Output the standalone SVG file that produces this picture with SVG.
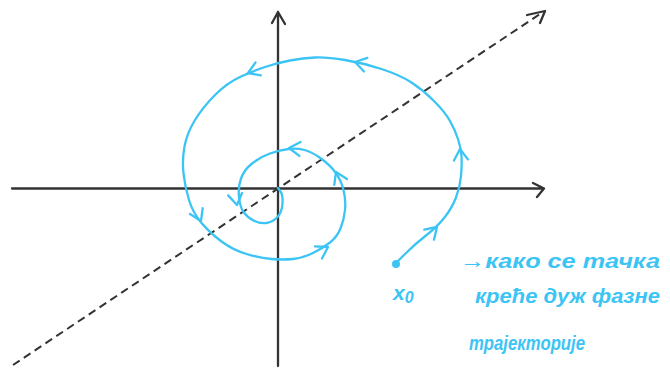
<svg xmlns="http://www.w3.org/2000/svg" width="670" height="371" viewBox="0 0 670 371">
<style>
.ax{fill:none;stroke:#333;stroke-width:2.3;stroke-linecap:round;stroke-linejoin:round}
.dash{fill:none;stroke:#333;stroke-width:2;stroke-dasharray:8 5}
.bl{fill:none;stroke:#3cc4f5;stroke-width:2.3;stroke-linecap:round;stroke-linejoin:round}
.tx{fill:#3cc4f5;font-family:"Liberation Sans",sans-serif;font-style:italic;font-weight:bold}
</style>
<defs>
<path id="chev" class="bl" d="M-11,-7 L0,0 L-11,7"/>
</defs>
<rect width="670" height="371" fill="#fff"/>
<g id="axes">
<path class="ax" d="M12,188.5 L544,188.5 M533,183 L544,188.5 L537,197"/>
<path class="ax" d="M278,366 L278,12 M272,23 L278,12 L285,24"/>
<path class="dash" d="M13,365 L543,12"/>
<path class="ax" d="M527,15 L545,11 L540,23"/>
</g>
<g id="connectors">
<path class="bl" d="M396,263 L405.5,253.5 Q415,244 426,235.5 Q437,227 444.5,217.5 Q452,208 456,197.5 Q460,187 461,176 Q462,165 461.5,156.5 Q461,148 458,139 Q455,130 450,121 Q445,112 434,101 Q423,90 411.5,82.5 Q400,75 381.5,69 Q363,63 345,60 Q327,57 315,57.5 Q303,58 290,60.5 Q277,63 265,67 Q253,71 240,77 Q227,83 215,95 Q203,107 195,120 Q187,133 184.5,146.5 Q182,160 183.5,173.5 Q185,187 189,200 Q193,213 201.5,223 Q210,233 221.5,241.5 Q233,250 246.5,254 Q260,258 271.5,259 Q283,260 293,259 Q303,258 313,253 Q323,248 330,242.5 Q337,237 340.5,228.5 Q344,220 345,210 Q346,200 343.5,190 Q341,180 335.5,172.5 Q330,165 321,158.5 Q312,152 304.5,150 Q297,148 288.5,149 Q280,150 270,153.5 Q260,157 252,163.5 Q244,170 241,178.5 Q238,187 239,197 Q240,207 243.5,212 Q247,217 253.5,220.5 Q260,224 266.5,223 Q273,222 277.5,217 Q282,212 282.5,203.5 Q283,195 280.5,191.5 L278,188"/>
<use href="#chev" transform="translate(437,227) rotate(-44)"/>
<use href="#chev" transform="translate(460,149) rotate(-95)"/>
<use href="#chev" transform="translate(355,62) rotate(-166)"/>
<use href="#chev" transform="translate(248,73) rotate(158)"/>
<use href="#chev" transform="translate(201,221) rotate(65)"/>
<use href="#chev" transform="translate(328,247) rotate(-30)"/>
<use href="#chev" transform="translate(336,172) rotate(-115)"/>
<use href="#chev" transform="translate(289,148) rotate(185)"/>
<use href="#chev" transform="translate(237,205) rotate(80)"/>
</g>
<g id="x0">
<circle cx="396" cy="264" r="4" fill="#3cc4f5"/>
<text class="tx" x="393" y="300" font-size="21" font-weight="normal">x<tspan font-size="16" dy="3">0</tspan></text>
</g>
<g id="note">
<text class="tx" x="460" y="268" font-size="21" textLength="200" lengthAdjust="spacingAndGlyphs">→како се тачка</text>
<text class="tx" x="475" y="303" font-size="21" textLength="185" lengthAdjust="spacingAndGlyphs">креће дуж фазне</text>
<text class="tx" x="469" y="350" font-size="21" textLength="116" lengthAdjust="spacingAndGlyphs">трајекторије</text>
</g>
</svg>
